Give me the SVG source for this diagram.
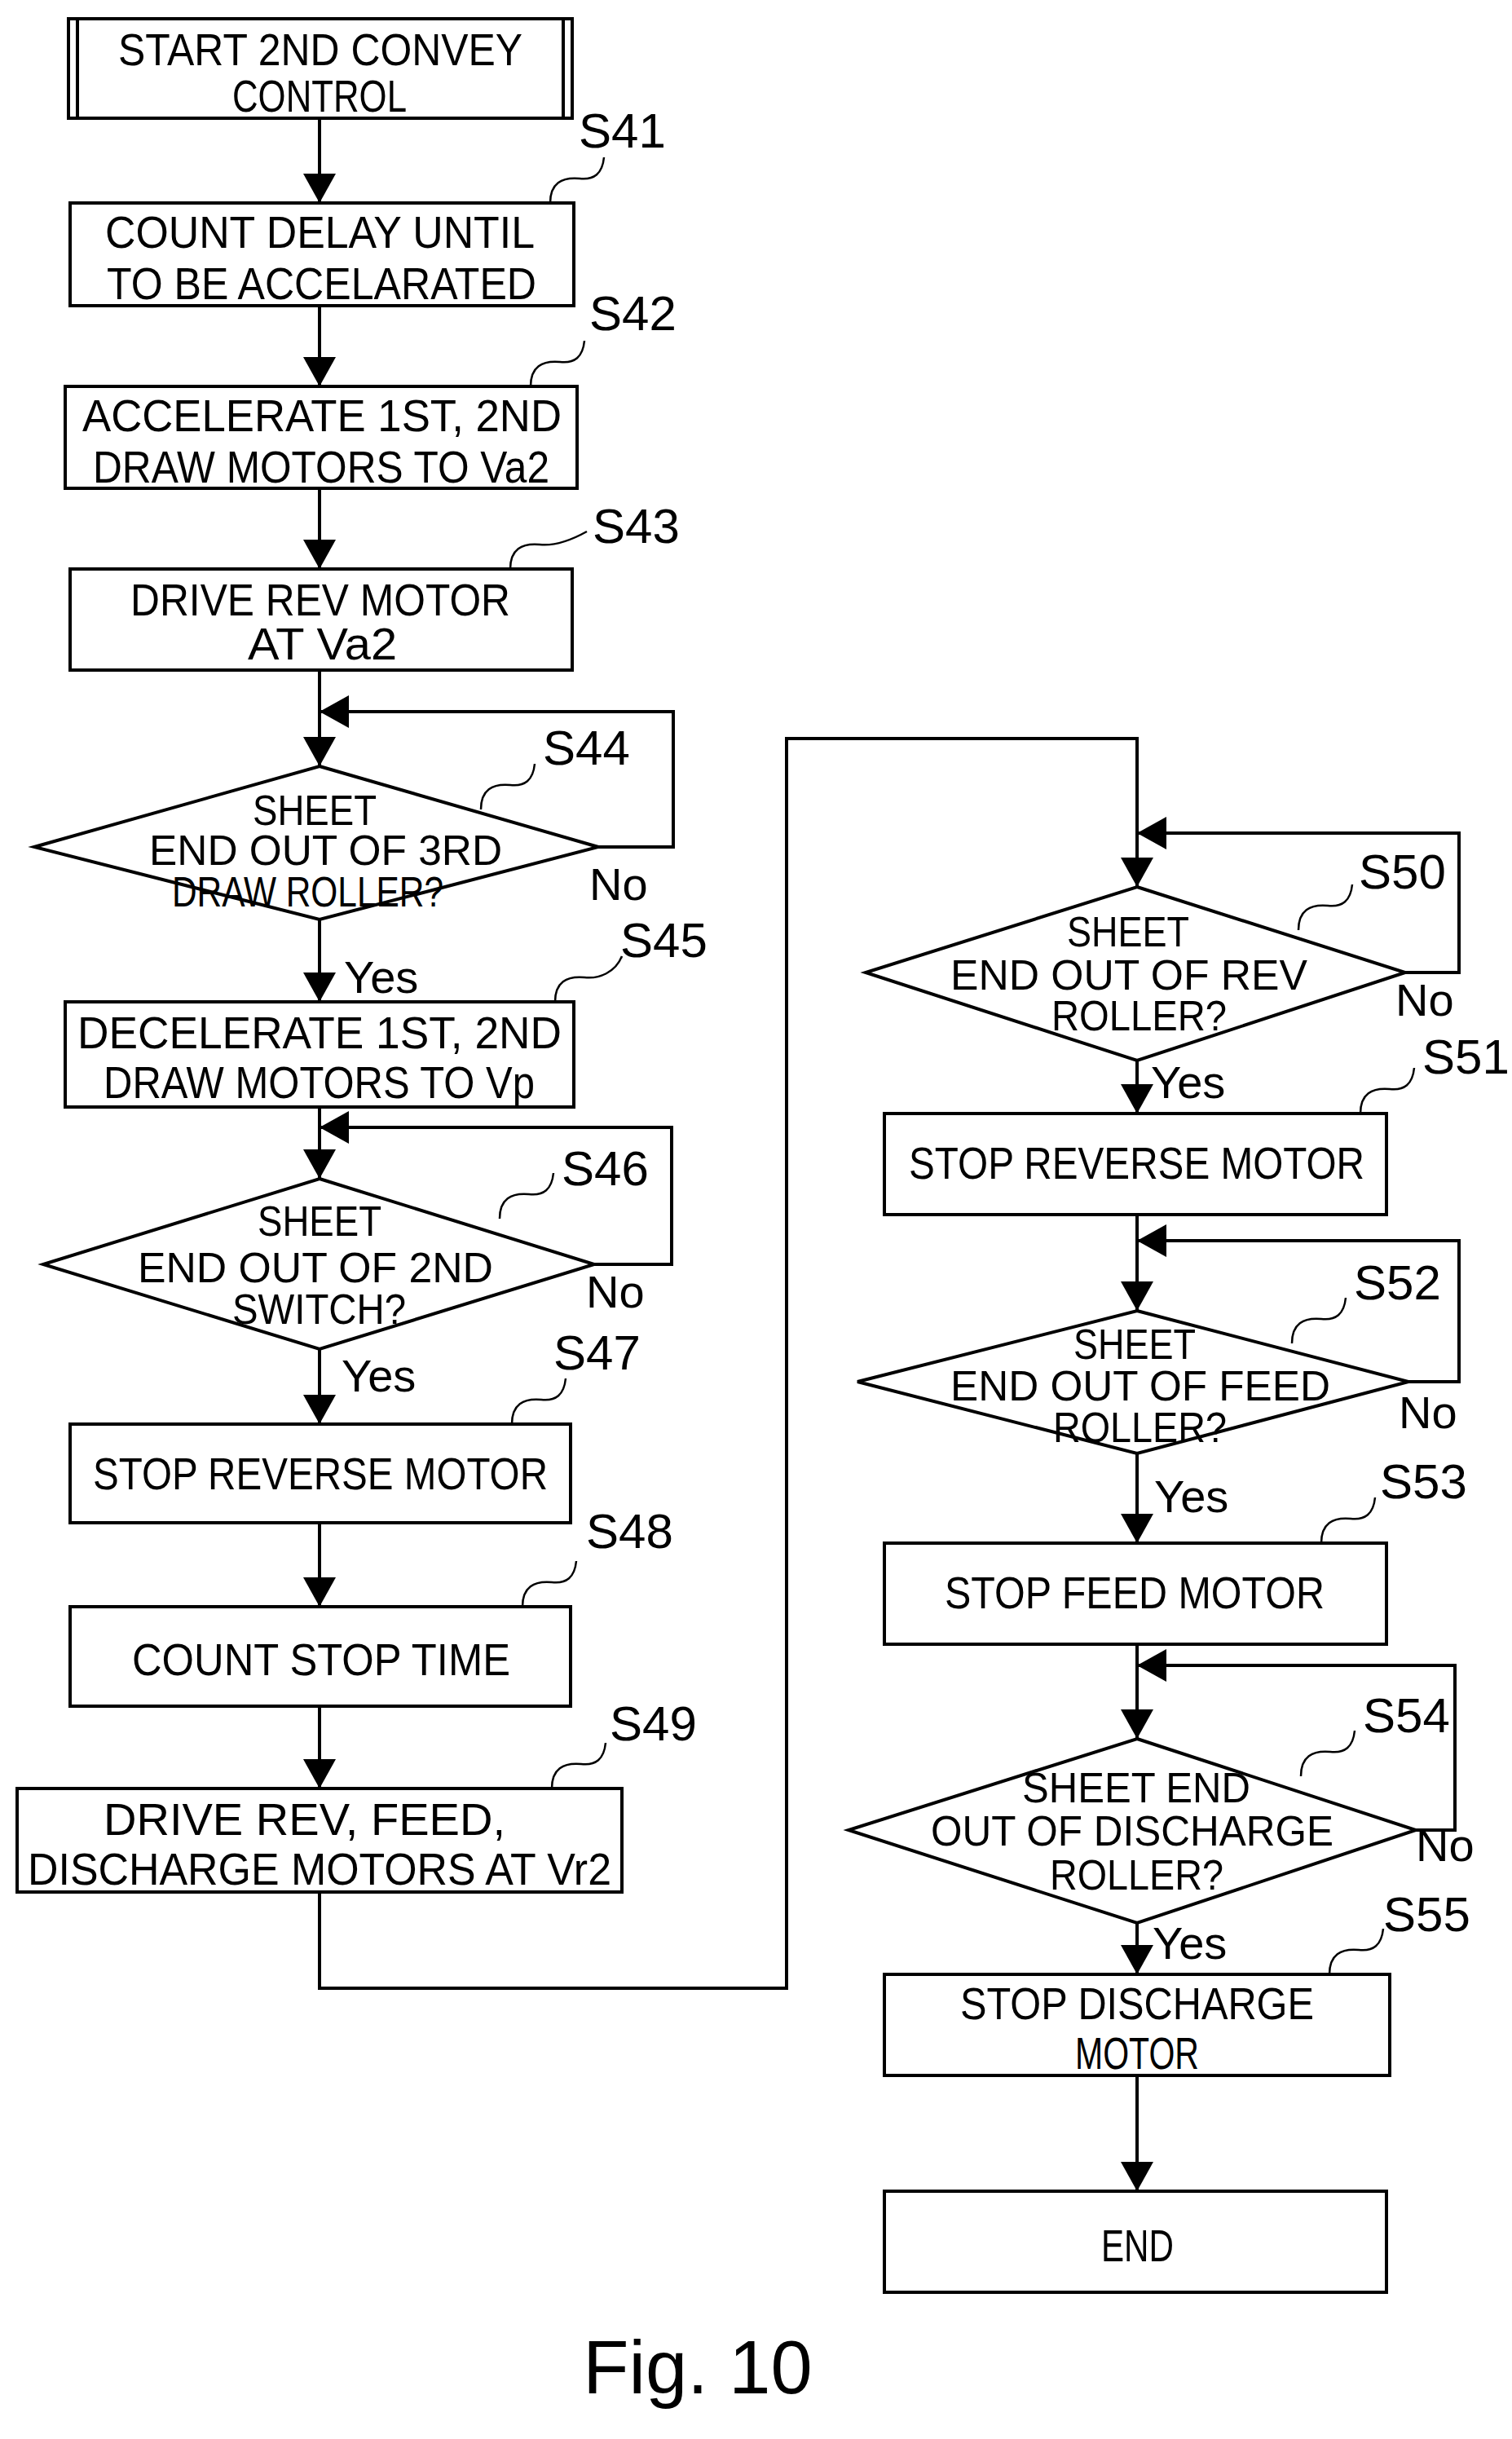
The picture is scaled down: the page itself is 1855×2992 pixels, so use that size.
<svg xmlns="http://www.w3.org/2000/svg" width="1855" height="2992" viewBox="0 0 1855 2992">
<style>
.b{fill:#fff;stroke:#000;stroke-width:4}
.c{fill:none;stroke:#000;stroke-width:4}
.l{fill:none;stroke:#000;stroke-width:2.5}
text{font-family:"Liberation Sans",Arial,sans-serif;font-size:56px;fill:#000}
.lb{font-size:60px}
.d{font-size:52px}
</style>
<defs>
<marker id="a" markerUnits="userSpaceOnUse" markerWidth="40" markerHeight="40" refX="36" refY="20" orient="auto"><path d="M0,0 L36,20 L0,40 Z" fill="#000"/></marker>
</defs>
<g id="connectors">
<path class="c" d="M392,145 V249" marker-end="url(#a)"/>
<path class="c" d="M392,375 V474" marker-end="url(#a)"/>
<path class="c" d="M392,599 V698" marker-end="url(#a)"/>
<path class="c" d="M392,822 V940" marker-end="url(#a)"/>
<path class="c" d="M734,1039 H826 V873 H392" marker-end="url(#a)"/>
<path class="c" d="M392,1128 V1229" marker-end="url(#a)"/>
<path class="c" d="M392,1358 V1446" marker-end="url(#a)"/>
<path class="c" d="M729,1551 H824 V1383 H392" marker-end="url(#a)"/>
<path class="c" d="M392,1655 V1747" marker-end="url(#a)"/>
<path class="c" d="M392,1868 V1971" marker-end="url(#a)"/>
<path class="c" d="M392,2093 V2194" marker-end="url(#a)"/>
<path class="c" d="M392,2321 V2439 H965 V906 H1395 V1088" marker-end="url(#a)"/>
<path class="c" d="M1724,1193 H1790 V1022 H1395" marker-end="url(#a)"/>
<path class="c" d="M1395,1301 V1366" marker-end="url(#a)"/>
<path class="c" d="M1395,1490 V1608" marker-end="url(#a)"/>
<path class="c" d="M1728,1695 H1790 V1522 H1395" marker-end="url(#a)"/>
<path class="c" d="M1395,1783 V1893" marker-end="url(#a)"/>
<path class="c" d="M1395,2017 V2133" marker-end="url(#a)"/>
<path class="c" d="M1737,2245 H1785 V2043 H1395" marker-end="url(#a)"/>
<path class="c" d="M1395,2359 V2422" marker-end="url(#a)"/>
<path class="c" d="M1395,2546 V2688" marker-end="url(#a)"/>
</g>
<g id="leaders">
<path class="l" d="M675,249 c0,-24 14,-32 36,-30 c18,2 28,-6 30,-26"/>
<path class="l" d="M651,474 c0,-24 14,-32 36,-30 c18,2 28,-6 30,-26"/>
<path class="l" d="M626,698 c0,-24 14,-32 36,-30 c18,2 40,-6 58,-16"/>
<path class="l" d="M590,993 c0,-24 14,-32 36,-30 c18,2 28,-6 30,-26"/>
<path class="l" d="M681,1229 c0,-24 14,-32 36,-30 c18,2 38,-6 46,-26"/>
<path class="l" d="M613,1495 c0,-24 14,-32 36,-30 c18,2 28,-6 30,-26"/>
<path class="l" d="M628,1747 c0,-24 14,-32 36,-30 c18,2 28,-6 30,-26"/>
<path class="l" d="M641,1971 c0,-24 14,-32 36,-30 c18,2 28,-6 30,-26"/>
<path class="l" d="M677,2194 c0,-24 14,-32 36,-30 c18,2 28,-6 30,-26"/>
<path class="l" d="M1593,1141 c0,-24 14,-32 36,-30 c18,2 28,-6 30,-26"/>
<path class="l" d="M1669,1366 c0,-24 14,-32 36,-30 c18,2 28,-6 30,-26"/>
<path class="l" d="M1585,1648 c0,-24 14,-32 36,-30 c18,2 28,-6 30,-26"/>
<path class="l" d="M1621,1893 c0,-24 14,-32 36,-30 c18,2 28,-6 30,-26"/>
<path class="l" d="M1596,2179 c0,-24 14,-32 36,-30 c18,2 28,-6 30,-26"/>
<path class="l" d="M1631,2422 c0,-24 14,-32 36,-30 c18,2 28,-6 30,-26"/>
</g>
<g id="start">
<rect class="b" x="84" y="23" width="618" height="122"/>
<path class="c" d="M95,23 V145 M691,23 V145"/>
<text x="145" y="80" textLength="496" lengthAdjust="spacingAndGlyphs">START 2ND CONVEY</text>
<text x="285" y="137" textLength="214" lengthAdjust="spacingAndGlyphs">CONTROL</text>
</g>
<g id="S41">
<rect class="b" x="86" y="249" width="618" height="126"/>
<text x="129" y="304" textLength="527" lengthAdjust="spacingAndGlyphs">COUNT DELAY UNTIL</text>
<text x="131" y="367" textLength="527" lengthAdjust="spacingAndGlyphs">TO BE ACCELARATED</text>
<text class="lb" x="710" y="181">S41</text>
</g>
<g id="S42">
<rect class="b" x="80" y="474" width="628" height="125"/>
<text x="101" y="529" textLength="588" lengthAdjust="spacingAndGlyphs">ACCELERATE 1ST, 2ND</text>
<text x="114" y="592" textLength="560" lengthAdjust="spacingAndGlyphs">DRAW MOTORS TO Va2</text>
<text class="lb" x="723" y="405">S42</text>
</g>
<g id="S43">
<rect class="b" x="86" y="698" width="616" height="124"/>
<text x="160" y="755" textLength="466" lengthAdjust="spacingAndGlyphs">DRIVE REV MOTOR</text>
<text x="304" y="809" textLength="183" lengthAdjust="spacingAndGlyphs">AT Va2</text>
<text class="lb" x="727" y="666">S43</text>
</g>
<g id="S44">
<path class="b" d="M392,940 L734,1039 L392,1128 L42,1039 Z"/>
<text class="d" x="310" y="1012" textLength="152" lengthAdjust="spacingAndGlyphs">SHEET</text>
<text class="d" x="183" y="1061" textLength="433" lengthAdjust="spacingAndGlyphs">END OUT OF 3RD</text>
<text class="d" x="211" y="1112" textLength="333" lengthAdjust="spacingAndGlyphs">DRAW ROLLER?</text>
<text class="lb" x="666" y="938">S44</text>
<text x="723" y="1104">No</text>
<text x="422" y="1218">Yes</text>
</g>
<g id="S45">
<rect class="b" x="80" y="1229" width="624" height="129"/>
<text x="95" y="1286" textLength="594" lengthAdjust="spacingAndGlyphs">DECELERATE 1ST, 2ND</text>
<text x="127" y="1347" textLength="529" lengthAdjust="spacingAndGlyphs">DRAW MOTORS TO Vp</text>
<text class="lb" x="761" y="1174">S45</text>
</g>
<g id="S46">
<path class="b" d="M392,1446 L729,1551 L392,1655 L53,1551 Z"/>
<text class="d" x="316" y="1516" textLength="152" lengthAdjust="spacingAndGlyphs">SHEET</text>
<text class="d" x="169" y="1573" textLength="436" lengthAdjust="spacingAndGlyphs">END OUT OF 2ND</text>
<text class="d" x="285" y="1624" textLength="213" lengthAdjust="spacingAndGlyphs">SWITCH?</text>
<text class="lb" x="689" y="1454">S46</text>
<text x="719" y="1604">No</text>
<text x="419" y="1707">Yes</text>
</g>
<g id="S47">
<rect class="b" x="86" y="1747" width="614" height="121"/>
<text x="114" y="1827" textLength="558" lengthAdjust="spacingAndGlyphs">STOP REVERSE MOTOR</text>
<text class="lb" x="679" y="1680">S47</text>
</g>
<g id="S48">
<rect class="b" x="86" y="1971" width="614" height="122"/>
<text x="162" y="2055" textLength="464" lengthAdjust="spacingAndGlyphs">COUNT STOP TIME</text>
<text class="lb" x="719" y="1899">S48</text>
</g>
<g id="S49">
<rect class="b" x="21" y="2194" width="742" height="127"/>
<text x="127" y="2251" textLength="493" lengthAdjust="spacingAndGlyphs">DRIVE REV, FEED,</text>
<text x="34" y="2312" textLength="716" lengthAdjust="spacingAndGlyphs">DISCHARGE MOTORS AT Vr2</text>
<text class="lb" x="748" y="2135">S49</text>
</g>
<g id="S50">
<path class="b" d="M1395,1088 L1724,1193 L1395,1301 L1062,1193 Z"/>
<text class="d" x="1309" y="1161" textLength="150" lengthAdjust="spacingAndGlyphs">SHEET</text>
<text class="d" x="1166" y="1214" textLength="438" lengthAdjust="spacingAndGlyphs">END OUT OF REV</text>
<text class="d" x="1290" y="1264" textLength="215" lengthAdjust="spacingAndGlyphs">ROLLER?</text>
<text class="lb" x="1667" y="1090">S50</text>
<text x="1712" y="1246">No</text>
<text x="1412" y="1347">Yes</text>
</g>
<g id="S51">
<rect class="b" x="1085" y="1366" width="616" height="124"/>
<text x="1115" y="1446" textLength="559" lengthAdjust="spacingAndGlyphs">STOP REVERSE MOTOR</text>
<text class="lb" x="1745" y="1317">S51</text>
</g>
<g id="S52">
<path class="b" d="M1395,1608 L1728,1695 L1395,1783 L1052,1695 Z"/>
<text class="d" x="1317" y="1667" textLength="150" lengthAdjust="spacingAndGlyphs">SHEET</text>
<text class="d" x="1166" y="1718" textLength="466" lengthAdjust="spacingAndGlyphs">END OUT OF FEED</text>
<text class="d" x="1292" y="1769" textLength="213" lengthAdjust="spacingAndGlyphs">ROLLER?</text>
<text class="lb" x="1661" y="1594">S52</text>
<text x="1716" y="1752">No</text>
<text x="1416" y="1855">Yes</text>
</g>
<g id="S53">
<rect class="b" x="1085" y="1893" width="616" height="124"/>
<text x="1159" y="1973" textLength="466" lengthAdjust="spacingAndGlyphs">STOP FEED MOTOR</text>
<text class="lb" x="1693" y="1838">S53</text>
</g>
<g id="S54">
<path class="b" d="M1395,2133 L1737,2245 L1395,2359 L1041,2245 Z"/>
<text class="d" x="1254" y="2211" textLength="280" lengthAdjust="spacingAndGlyphs">SHEET END</text>
<text class="d" x="1142" y="2264" textLength="494" lengthAdjust="spacingAndGlyphs">OUT OF DISCHARGE</text>
<text class="d" x="1288" y="2318" textLength="213" lengthAdjust="spacingAndGlyphs">ROLLER?</text>
<text class="lb" x="1672" y="2125">S54</text>
<text x="1737" y="2283">No</text>
<text x="1414" y="2403">Yes</text>
</g>
<g id="S55">
<rect class="b" x="1085" y="2422" width="620" height="124"/>
<text x="1178" y="2477" textLength="434" lengthAdjust="spacingAndGlyphs">STOP DISCHARGE</text>
<text x="1319" y="2538" textLength="152" lengthAdjust="spacingAndGlyphs">MOTOR</text>
<text class="lb" x="1697" y="2369">S55</text>
</g>
<g id="end">
<rect class="b" x="1085" y="2688" width="616" height="124"/>
<text x="1351" y="2774" textLength="89" lengthAdjust="spacingAndGlyphs">END</text>
</g>
<text x="856" y="2936" text-anchor="middle" style="font-size:92px">Fig. 10</text>
</svg>
